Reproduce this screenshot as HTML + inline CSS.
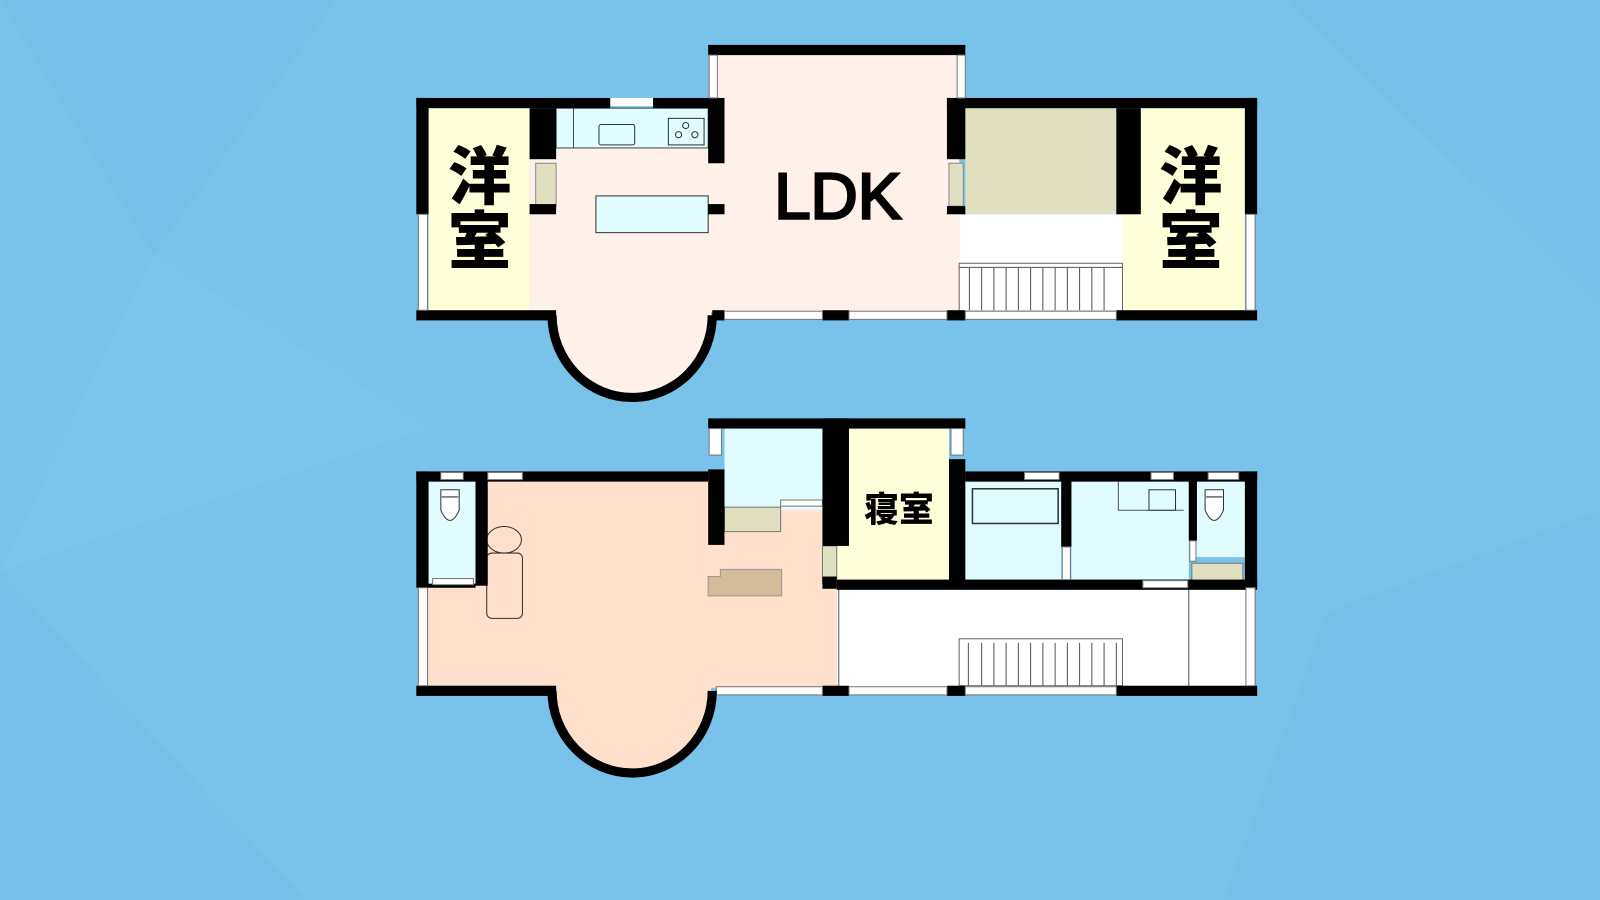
<!DOCTYPE html>
<html><head><meta charset="utf-8"><style>
html,body{margin:0;padding:0;background:#79c2ea;}
svg{display:block}
</style></head><body>
<svg width="1600" height="900" viewBox="0 0 1568 882" xmlns="http://www.w3.org/2000/svg">
<rect width="1568" height="882" fill="#79c2ea"/>
<polygon points="0,0 330,0 150,250" fill="#76bfe8"/>
<polygon points="1260,0 1568,0 1568,300" fill="#76bfe8"/>
<polygon points="0,560 300,882 0,882" fill="#76bfe8"/>
<polygon points="1300,600 1568,500 1568,882 1200,882" fill="#76bfe8"/>
<polygon points="150,250 420,420 0,560" fill="#7bc4ec"/>

<!-- ===== TOP FLOOR ===== -->
<rect x="519" y="106" width="421" height="200" fill="#fff1ea"/>
<rect x="702" y="52" width="238" height="60" fill="#fff1ea"/>
<ellipse cx="621" cy="309" rx="76" ry="79" fill="#fff1ea"/>
<rect x="420" y="106" width="99" height="200" fill="#fefed8"/>
<rect x="1100" y="106" width="120" height="200" fill="#fefed8"/>
<rect x="946" y="106" width="148" height="104" fill="#e0e0c0"/>
<rect x="940" y="210" width="160" height="48" fill="#fff"/>
<rect x="940" y="258" width="160" height="47" fill="#fff" stroke="#666" stroke-width="1"/>
<g stroke="#555" stroke-width="1">
<line x1="940" y1="262" x2="1100" y2="262"/>
<line x1="950" y1="262" x2="950" y2="304"/><line x1="962" y1="262" x2="962" y2="304"/><line x1="974" y1="262" x2="974" y2="304"/><line x1="986" y1="262" x2="986" y2="304"/><line x1="998" y1="262" x2="998" y2="304"/><line x1="1010" y1="262" x2="1010" y2="304"/><line x1="1022" y1="262" x2="1022" y2="304"/><line x1="1034" y1="262" x2="1034" y2="304"/><line x1="1046" y1="262" x2="1046" y2="304"/><line x1="1058" y1="262" x2="1058" y2="304"/><line x1="1070" y1="262" x2="1070" y2="304"/><line x1="1082" y1="262" x2="1082" y2="304"/>
</g>
<rect x="545" y="106" width="149" height="39" fill="#e0fcff" stroke="#444" stroke-width="1"/>
<line x1="562" y1="106" x2="562" y2="145" stroke="#444"/>
<rect x="587" y="122" width="35" height="20" fill="#e0fcff" stroke="#333" rx="2"/>
<rect x="655" y="116" width="35" height="26" fill="#e0fcff" stroke="#333"/>
<circle cx="672" cy="123" r="3" fill="none" stroke="#333"/><circle cx="665" cy="132" r="3" fill="none" stroke="#333"/><circle cx="681" cy="132" r="3" fill="none" stroke="#333"/>
<rect x="598" y="96" width="42" height="8" fill="#fff"/>
<rect x="584" y="192" width="110" height="36" fill="#e0fcff" stroke="#333"/>
<rect x="694" y="200" width="16" height="10" fill="#000"/>
<rect x="525" y="160" width="20" height="42" fill="#e0e0c0" stroke="#888"/>
<rect x="930" y="160" width="14" height="42" fill="#e0e0c0" stroke="#888"/>
<g fill="#000">
<rect x="408" y="96" width="190" height="10"/>
<rect x="640" y="96" width="70" height="10"/>
<rect x="928" y="96" width="304" height="10"/>
<rect x="694" y="44" width="252" height="10"/>
<rect x="408" y="96" width="12" height="114"/>
<rect x="1220" y="96" width="12" height="114"/>
<rect x="519" y="106" width="26" height="50"/>
<rect x="519" y="200" width="26" height="10"/>
<rect x="694" y="96" width="16" height="64"/>
<rect x="928" y="96" width="18" height="60"/>
<rect x="928" y="202" width="18" height="8"/>
<rect x="1094" y="106" width="24" height="104"/>
<rect x="408" y="304" width="137" height="10"/>
<rect x="698" y="304" width="12" height="10"/>
<rect x="806" y="304" width="26" height="10"/>
<rect x="928" y="304" width="18" height="10"/>
<rect x="1094" y="304" width="138" height="10"/>
</g>
<g fill="#fff" stroke="#777" stroke-width="1">
<rect x="410" y="210" width="9" height="94"/><rect x="1221" y="210" width="9" height="94"/>
<rect x="695" y="54" width="8" height="42"/><rect x="938" y="54" width="8" height="42"/>
<rect x="710" y="305" width="96" height="8"/><rect x="832" y="305" width="96" height="8"/><rect x="946" y="305" width="148" height="8"/>
</g>
<path d="M541 309 A78 80 0 0 0 698 309" fill="none" stroke="#000" stroke-width="9"/>
<text x="821" y="214" font-family="Liberation Sans, sans-serif" font-size="64" text-anchor="middle" fill="#000" stroke="#000" stroke-width="2.5">LDK</text>
<text x="470" y="195" font-family="'Noto Sans CJK JP', sans-serif" font-weight="900" font-size="62" text-anchor="middle" fill="#000">洋</text>
<text x="470" y="258" font-family="'Noto Sans CJK JP', sans-serif" font-weight="900" font-size="62" text-anchor="middle" fill="#000">室</text>
<text x="1167" y="195" font-family="'Noto Sans CJK JP', sans-serif" font-weight="900" font-size="62" text-anchor="middle" fill="#000">洋</text>
<text x="1167" y="258" font-family="'Noto Sans CJK JP', sans-serif" font-weight="900" font-size="62" text-anchor="middle" fill="#000">室</text>

<!-- ===== BOTTOM FLOOR ===== -->
<rect x="416" y="470" width="404" height="204" fill="#ffe0cc"/>
<ellipse cx="621" cy="677" rx="76" ry="78" fill="#ffe0cc"/>
<rect x="820" y="578" width="406" height="96" fill="#fff"/>
<line x1="822" y1="578" x2="822" y2="674" stroke="#555"/>
<line x1="1165" y1="578" x2="1165" y2="674" stroke="#555"/>
<rect x="420" y="470" width="46" height="102" fill="#e0fcff"/>
<rect x="710" y="420" width="96" height="80" fill="#e0fcff"/>
<rect x="710" y="497" width="55" height="24" fill="#e0e0c0" stroke="#777"/>
<rect x="765" y="490" width="41" height="6" fill="#fff" stroke="#777"/>
<rect x="820" y="420" width="110" height="152" fill="#fefed8"/>
<rect x="806" y="535" width="14" height="37" fill="#e0e0c0" stroke="#777"/>
<rect x="946" y="470" width="94" height="98" fill="#e0fcff"/>
<rect x="1050" y="470" width="115" height="98" fill="#e0fcff"/>
<rect x="1172" y="470" width="48" height="76" fill="#e0fcff"/>
<rect x="1168" y="552" width="50" height="20" fill="#e0e0c0" stroke="#777"/>
<rect x="953" y="479" width="84" height="34" fill="#e0fcff" stroke="#333" stroke-width="1.5"/>
<path d="M1096 470 V500 H1160" fill="none" stroke="#555"/>
<rect x="1126" y="480" width="26" height="20" fill="#e0fcff" stroke="#333"/>
<g fill="#fff" stroke="#333" stroke-width="1">
<path d="M432 480 h18 v20 q-9 20 -18 0 z"/><line x1="433" y1="487" x2="449" y2="487"/>
<path d="M1181 480 h18 v20 q-9 20 -18 0 z"/><line x1="1182" y1="487" x2="1198" y2="487"/>
</g>
<ellipse cx="494" cy="529" rx="17" ry="13" fill="#ffe0cc" stroke="#333"/>
<rect x="477" y="542" width="35" height="64" rx="5" fill="#ffe0cc" stroke="#333"/>
<path d="M694 565 h12 v-7 h60 v26 h-72 z" fill="#d4bc98" stroke="#999"/>
<rect x="940" y="626" width="160" height="46" fill="#fff" stroke="#666"/>
<g stroke="#555" stroke-width="1">
<line x1="949" y1="630" x2="949" y2="672"/><line x1="962" y1="630" x2="962" y2="672"/><line x1="974" y1="630" x2="974" y2="672"/><line x1="986" y1="630" x2="986" y2="672"/><line x1="998" y1="630" x2="998" y2="672"/><line x1="1010" y1="630" x2="1010" y2="672"/><line x1="1022" y1="630" x2="1022" y2="672"/><line x1="1034" y1="630" x2="1034" y2="672"/><line x1="1046" y1="630" x2="1046" y2="672"/><line x1="1058" y1="630" x2="1058" y2="672"/><line x1="1070" y1="630" x2="1070" y2="672"/><line x1="1082" y1="630" x2="1082" y2="672"/><line x1="1094" y1="630" x2="1094" y2="672"/>
</g>
<g fill="#000">
<rect x="408" y="462" width="286" height="10"/>
<rect x="946" y="462" width="286" height="10"/>
<rect x="694" y="410" width="252" height="10"/>
<rect x="408" y="462" width="12" height="114"/>
<rect x="1220" y="462" width="12" height="114"/>
<rect x="466" y="470" width="12" height="104"/>
<rect x="420" y="572" width="46" height="4" />
<rect x="694" y="460" width="16" height="74"/>
<rect x="806" y="410" width="26" height="125"/>
<rect x="806" y="565" width="14" height="12"/>
<rect x="930" y="450" width="16" height="124"/>
<rect x="820" y="568" width="412" height="10"/>
<rect x="1040" y="470" width="10" height="66"/>
<rect x="1165" y="470" width="8" height="60"/>
<rect x="408" y="672" width="137" height="10"/>
<rect x="806" y="672" width="26" height="10"/>
<rect x="928" y="672" width="18" height="10"/>
<rect x="1094" y="672" width="138" height="10"/>
</g>
<g fill="#fff" stroke="#777" stroke-width="1">
<rect x="410" y="576" width="9" height="96"/><rect x="1221" y="576" width="9" height="96"/>
<rect x="695" y="420" width="12" height="26"/><rect x="932" y="420" width="12" height="26"/>
<rect x="432" y="463" width="22" height="7"/><rect x="478" y="463" width="34" height="7"/>
<rect x="1004" y="463" width="34" height="7"/><rect x="1128" y="463" width="22" height="7"/><rect x="1184" y="463" width="30" height="7"/>
<rect x="424" y="567" width="40" height="6"/><rect x="1120" y="569" width="44" height="7"/>
<rect x="1041" y="536" width="8" height="32"/><rect x="1166" y="530" width="6" height="20"/>
<rect x="702" y="673" width="104" height="8"/><rect x="832" y="673" width="96" height="8"/><rect x="946" y="673" width="148" height="8"/>
</g>
<path d="M541 677 A78 80 0 0 0 698 677" fill="none" stroke="#000" stroke-width="9"/>
<text x="881" y="511" font-family="'Noto Sans CJK JP', sans-serif" font-weight="900" font-size="34" text-anchor="middle" fill="#000">寝室</text>
</svg>
</body></html>
